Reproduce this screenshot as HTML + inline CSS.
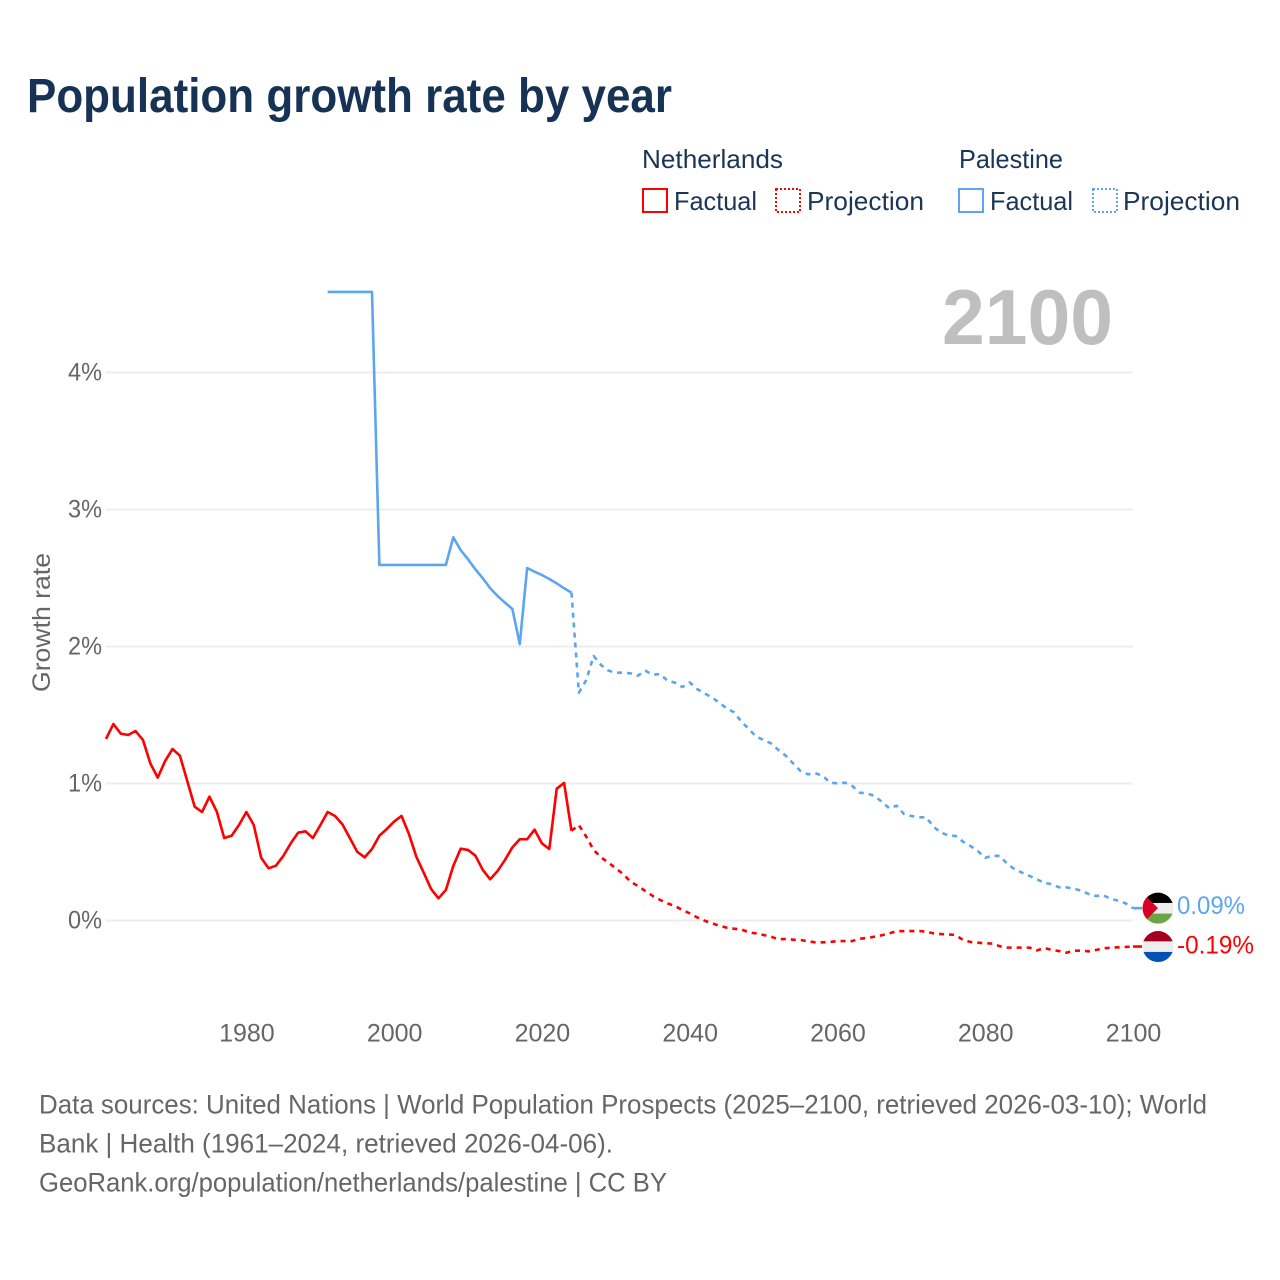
<!DOCTYPE html>
<html lang="en">
<head>
<meta charset="utf-8">
<title>Population growth rate by year</title>
<style>
html,body{margin:0;padding:0;background:#fff;}
svg{display:block;}
text{font-family:"Liberation Sans",sans-serif;}
</style>
</head>
<body>
<svg id="chart" xmlns="http://www.w3.org/2000/svg" width="1280" height="1280" viewBox="0 0 1280 1280">
  <defs>
    <clipPath id="flag-clip"><circle cx="0" cy="0" r="15.5"/></clipPath>
  </defs>
  <rect x="0" y="0" width="1280" height="1280" fill="#fff"/>
  <text x="27" y="112" font-size="48" font-weight="700" fill="#163254" textLength="645" lengthAdjust="spacingAndGlyphs">Population growth rate by year</text>

  <g font-size="26" fill="#1a3555">
    <text x="642" y="168" textLength="141" lengthAdjust="spacingAndGlyphs">Netherlands</text>
    <text x="959" y="168" textLength="104" lengthAdjust="spacingAndGlyphs">Palestine</text>
    <rect x="643" y="189" width="24" height="23" fill="none" stroke="#ff0000" stroke-width="2"/>
    <text x="674" y="210" textLength="83" lengthAdjust="spacingAndGlyphs">Factual</text>
    <rect x="776" y="189" width="24" height="23" fill="none" stroke="#ff0000" stroke-width="2" stroke-dasharray="2 2"/>
    <text x="807" y="210" textLength="117" lengthAdjust="spacingAndGlyphs">Projection</text>
    <rect x="959" y="189" width="24" height="23" fill="none" stroke="#5ca5ef" stroke-width="2"/>
    <text x="990" y="210" textLength="83" lengthAdjust="spacingAndGlyphs">Factual</text>
    <rect x="1093" y="189" width="24" height="23" fill="none" stroke="#5ca5ef" stroke-width="2" stroke-dasharray="2 2"/>
    <text x="1123" y="210" textLength="117" lengthAdjust="spacingAndGlyphs">Projection</text>
  </g>

  <text x="942" y="344" font-size="78" font-weight="700" fill="#bfbfbf" textLength="171" lengthAdjust="spacingAndGlyphs">2100</text>

  <g id="grid"></g>
  <g id="y-axis" font-size="25" fill="#666"></g>
  <g id="x-axis" font-size="25" fill="#666"></g>
  <text transform="translate(50,692) rotate(-90)" x="0" y="0" font-size="25" fill="#666" textLength="139" lengthAdjust="spacingAndGlyphs">Growth rate</text>

  <g id="series" fill="none" stroke-width="2.6" stroke-linejoin="round"></g>

  <g id="flag-palestine" clip-path="url(#flag-clip)">
    <rect x="-16" y="-16" width="32" height="11" fill="#000"/>
    <rect x="-16" y="-5.2" width="32" height="10.6" fill="#eee"/>
    <rect x="-16" y="5.4" width="32" height="11" fill="#6da544"/>
    <polygon points="-16,-16 0,0 -16,16" fill="#d80027"/>
  </g>
  <g id="flag-netherlands" clip-path="url(#flag-clip)">
    <rect x="-16" y="-16" width="32" height="11" fill="#a2001d"/>
    <rect x="-16" y="-5.2" width="32" height="10.6" fill="#eee"/>
    <rect x="-16" y="5.4" width="32" height="11" fill="#0052b4"/>
  </g>
  <text id="end-label-palestine" x="1177" font-size="25" fill="#5ca5ef" textLength="68" lengthAdjust="spacingAndGlyphs"></text>
  <text id="end-label-netherlands" x="1177" font-size="25" fill="#ff0000" textLength="77" lengthAdjust="spacingAndGlyphs"></text>

  <g font-size="26.5" fill="#666">
    <text x="39" y="1113.5" textLength="1168" lengthAdjust="spacingAndGlyphs">Data sources: United Nations | World Population Prospects (2025–2100, retrieved 2026-03-10); World</text>
    <text x="39" y="1152.5" textLength="574" lengthAdjust="spacingAndGlyphs">Bank | Health (1961–2024, retrieved 2026-04-06).</text>
    <text x="39" y="1191.5" textLength="628" lengthAdjust="spacingAndGlyphs">GeoRank.org/population/netherlands/palestine | CC BY</text>
  </g>
</svg>
<script>
const xTickYears = [1980, 2000, 2020, 2040, 2060, 2080, 2100];
const yTickValues = [0, 1, 2, 3, 4];
const nlFactualStartYear = 1961;
const nlFactual = [1.325,1.434,1.364,1.354,1.383,1.318,1.147,1.043,1.164,1.252,1.203,1.018,0.831,0.792,0.904,0.794,0.602,0.619,0.697,0.792,0.697,0.458,0.381,0.400,0.471,0.563,0.641,0.651,0.602,0.695,0.792,0.763,0.702,0.602,0.502,0.461,0.522,0.619,0.668,0.722,0.763,0.631,0.466,0.349,0.230,0.162,0.223,0.398,0.524,0.515,0.473,0.369,0.301,0.361,0.442,0.534,0.593,0.593,0.663,0.563,0.522,0.962,1.004,0.655];
const nlProjectionStartYear = 2024;
const nlProjection = [0.655,0.697,0.612,0.515,0.461,0.422,0.381,0.339,0.283,0.252,0.215,0.179,0.150,0.125,0.106,0.077,0.052,0.023,-0.001,-0.020,-0.038,-0.052,-0.060,-0.065,-0.087,-0.094,-0.106,-0.118,-0.137,-0.135,-0.140,-0.142,-0.152,-0.159,-0.159,-0.157,-0.150,-0.150,-0.150,-0.133,-0.128,-0.118,-0.108,-0.094,-0.079,-0.077,-0.077,-0.077,-0.081,-0.094,-0.099,-0.101,-0.106,-0.142,-0.157,-0.162,-0.166,-0.169,-0.188,-0.198,-0.198,-0.198,-0.198,-0.218,-0.201,-0.215,-0.223,-0.235,-0.220,-0.220,-0.225,-0.215,-0.203,-0.198,-0.196,-0.193,-0.19];
const psFactualStartYear = 1991;
const psFactual = [4.588,4.588,4.588,4.588,4.588,4.588,4.588,2.595,2.595,2.595,2.595,2.595,2.595,2.595,2.595,2.595,2.595,2.797,2.704,2.636,2.563,2.498,2.425,2.369,2.320,2.274,2.018,2.573,2.546,2.522,2.493,2.461,2.425,2.393];
const psProjectionStartYear = 2024;
const psProjection = [2.393,1.663,1.755,1.931,1.865,1.824,1.809,1.809,1.804,1.787,1.823,1.794,1.799,1.750,1.736,1.704,1.738,1.690,1.658,1.629,1.590,1.549,1.520,1.451,1.398,1.342,1.318,1.293,1.245,1.203,1.147,1.091,1.067,1.075,1.057,1.006,1.001,1.006,0.982,0.933,0.928,0.909,0.867,0.819,0.838,0.777,0.763,0.753,0.753,0.685,0.641,0.622,0.617,0.575,0.544,0.507,0.458,0.473,0.471,0.412,0.374,0.349,0.325,0.301,0.274,0.266,0.242,0.242,0.232,0.218,0.193,0.179,0.184,0.157,0.145,0.125,0.09];

const SVGNS = 'http://www.w3.org/2000/svg';
function xScale(year) { return 106 + (year - 1961) * (1133 - 106) / (2100 - 1961); }
function yScale(value) { return 920.5 - value * 137; }
function linePath(startYear, values) {
  return values.map(function (v, i) {
    return (i ? 'L' : 'M') + xScale(startYear + i).toFixed(2) + ' ' + yScale(v).toFixed(2);
  }).join(' ');
}
function make(tag, parent) {
  const el = document.createElementNS(SVGNS, tag);
  parent.appendChild(el);
  return el;
}

const gridGroup = document.getElementById('grid');
const yAxisGroup = document.getElementById('y-axis');
const xAxisGroup = document.getElementById('x-axis');
const seriesGroup = document.getElementById('series');

yTickValues.forEach(function (v) {
  const line = make('line', gridGroup);
  
  
  line.setAttribute('x1', 106);
  line.setAttribute('x2', 1133);
  line.setAttribute('y1', yScale(v));
  line.setAttribute('y2', yScale(v));
  line.setAttribute('stroke', '#eeeeee');
  line.setAttribute('stroke-width', 2);
  const label = make('text', yAxisGroup);
  
  
  label.setAttribute('x', 68);
  label.setAttribute('y', yScale(v) + 8);
  label.setAttribute('textLength', 34);
  label.setAttribute('lengthAdjust', 'spacingAndGlyphs');
  label.textContent = v + '%';
});

xTickYears.forEach(function (y) {
  const label = make('text', xAxisGroup);
  
  
  label.setAttribute('x', xScale(y) + 0.5);
  label.setAttribute('y', 1041.5);
  label.setAttribute('text-anchor', 'middle');
  label.textContent = y;
});

const nlFactualLine = make('path', seriesGroup);


nlFactualLine.setAttribute('stroke', '#ff0000');
nlFactualLine.setAttribute('d', linePath(nlFactualStartYear, nlFactual));

const nlProjectionLine = make('path', seriesGroup);


nlProjectionLine.setAttribute('stroke', '#ff0000');
nlProjectionLine.setAttribute('stroke-dasharray', '5 5');
nlProjectionLine.setAttribute('d', linePath(nlProjectionStartYear, nlProjection));

const psFactualLine = make('path', seriesGroup);


psFactualLine.setAttribute('stroke', '#5ca5ef');
psFactualLine.setAttribute('d', linePath(psFactualStartYear, psFactual));

const psProjectionLine = make('path', seriesGroup);


psProjectionLine.setAttribute('stroke', '#5ca5ef');
psProjectionLine.setAttribute('stroke-dasharray', '5 5');
psProjectionLine.setAttribute('d', linePath(psProjectionStartYear, psProjection));

const nlEnd = nlProjection[nlProjection.length - 1];
const psEnd = psProjection[psProjection.length - 1];

const nlConnector = make('line', seriesGroup);


nlConnector.setAttribute('stroke', '#ff0000');
nlConnector.setAttribute('x1', xScale(2100));
nlConnector.setAttribute('x2', 1142);
nlConnector.setAttribute('y1', yScale(nlEnd));
nlConnector.setAttribute('y2', yScale(nlEnd));

const psConnector = make('line', seriesGroup);


psConnector.setAttribute('stroke', '#5ca5ef');
psConnector.setAttribute('x1', xScale(2100));
psConnector.setAttribute('x2', 1142);
psConnector.setAttribute('y1', yScale(psEnd));
psConnector.setAttribute('y2', yScale(psEnd));

document.getElementById('flag-palestine').setAttribute('transform', 'translate(1158,' + yScale(psEnd) + ')');
document.getElementById('flag-netherlands').setAttribute('transform', 'translate(1158,' + yScale(nlEnd) + ')');

const psLabel = document.getElementById('end-label-palestine');
psLabel.setAttribute('y', yScale(psEnd) + 6);
psLabel.textContent = psEnd.toFixed(2) + '%';
const nlLabel = document.getElementById('end-label-netherlands');
nlLabel.setAttribute('y', yScale(nlEnd) + 7);
nlLabel.textContent = nlEnd.toFixed(2) + '%';
</script>
</body>
</html>
